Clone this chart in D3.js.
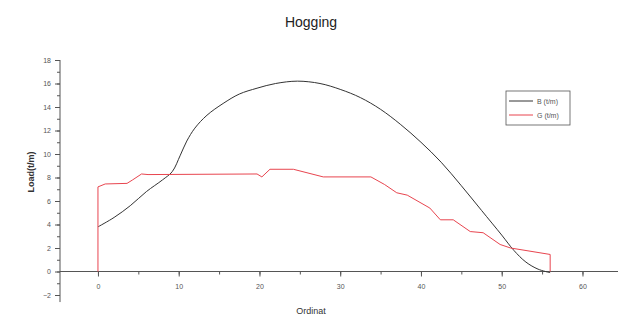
<!DOCTYPE html>
<html>
<head>
<meta charset="utf-8">
<script src="https://cdn.jsdelivr.net/npm/d3@7"></script>
<style>
  body { margin: 0; background: #fff; }
  svg { font-family: "Liberation Sans", Arial, sans-serif; }
</style>
</head>
<body>
<svg id="chart" width="624" height="320"></svg>
<script>
// B (t/m) - buoyancy curve
const bX = [0, 2, 4, 6, 8, 9.2, 10.2, 11, 12, 13.5, 15.5, 17.5, 19.7, 22, 24.7, 27.5, 30, 32.5, 35, 37.5, 40, 42.5, 45, 47.5, 50, 51.5, 53, 54.5, 56];
const bY = [3.8, 4.6, 5.6, 6.8, 7.8, 8.5, 9.9, 11.1, 12.2, 13.3, 14.3, 15.1, 15.6, 16.0, 16.2, 16.0, 15.5, 14.8, 13.8, 12.5, 11.0, 9.3, 7.3, 5.2, 3.1, 1.8, 0.8, 0.2, -0.1];

// G (t/m) - weight curve (stepped)
const gX = [0, 0, 0.9, 3.6, 4.3, 5.4, 6.2, 19.7, 20.3, 21.3, 24.2, 27.9, 33.8, 35.5, 37, 38.3, 41.1, 42.4, 44, 46.1, 47.7, 49.8, 51.1, 56, 56];
const gY = [0, 7.2, 7.45, 7.5, 7.8, 8.3, 8.25, 8.3, 8.05, 8.7, 8.7, 8.05, 8.05, 7.4, 6.7, 6.5, 5.4, 4.4, 4.4, 3.4, 3.3, 2.3, 2.0, 1.45, 0];

const xTicks = [0, 10, 20, 30, 40, 50, 60];
const yTicks = [-2, 0, 2, 4, 6, 8, 10, 12, 14, 16, 18];
const legendNames = ["B (t/m)", "G (t/m)"];
const seriesColors = ["#333333", "#e8454f"];

const svg = d3.select("#chart");

const x = d3.scaleLinear().domain([-4.7, 64.4]).range([60, 618]);
const y = d3.scaleLinear().domain([-2, 18]).range([295, 60]);

// title
svg.append("text")
    .attr("x", 311).attr("y", 27)
    .attr("text-anchor", "middle")
    .attr("font-size", 14)
    .attr("fill", "#222")
    .text("Hogging");

// y axis
const yAxis = svg.append("g").attr("transform", `translate(${x(-4.7)},0)`);
yAxis.append("line")
    .attr("y1", y(18)).attr("y2", y(-2.6))
    .attr("stroke", "#555");
yAxis.call(d3.axisLeft(y).tickValues(d3.range(-2, 19, 1)).tickFormat("").tickSize(3))
    .select(".domain").remove();
svg.append("g")
    .attr("transform", `translate(${x(-4.7)},0)`)
    .call(d3.axisLeft(y).tickValues(yTicks).tickSize(5).tickPadding(4))
    .call(g => g.select(".domain").remove())
    .call(g => g.selectAll("line").attr("stroke", "#555"))
    .call(g => g.selectAll("text").attr("font-size", 7).attr("fill", "#555")
        .attr("font-family", "Liberation Sans, Arial, sans-serif"));
yAxis.selectAll("line").attr("stroke", "#555");

// x axis at y = 0
const xAxis = svg.append("g").attr("transform", `translate(0,${y(0)})`);
xAxis.append("line")
    .attr("x1", x(-4.7)).attr("x2", x(64.4))
    .attr("stroke", "#555");
xAxis.call(d3.axisBottom(x).tickValues(d3.range(0, 61, 5)).tickFormat("").tickSize(3))
    .select(".domain").remove();
xAxis.selectAll("line").attr("stroke", "#555");
svg.append("g")
    .attr("transform", `translate(0,${y(0)})`)
    .call(d3.axisBottom(x).tickValues(xTicks).tickSize(5).tickPadding(8))
    .call(g => g.select(".domain").remove())
    .call(g => g.selectAll("line").attr("stroke", "#555"))
    .call(g => g.selectAll("text").attr("font-size", 7).attr("fill", "#555")
        .attr("font-family", "Liberation Sans, Arial, sans-serif"));

// axis labels
svg.append("text")
    .attr("x", 311).attr("y", 314)
    .attr("text-anchor", "middle")
    .attr("font-size", 9)
    .attr("fill", "#333")
    .text("Ordinat");
svg.append("text")
    .attr("transform", "translate(34,172) rotate(-90)")
    .attr("text-anchor", "middle")
    .attr("font-size", 9)
    .attr("font-weight", "bold")
    .attr("fill", "#333")
    .text("Load(t/m)");

// series
const line = d3.line().x(d => x(d[0])).y(d => y(d[1]));
const bLine = d3.line().x(d => x(d[0])).y(d => y(d[1])).curve(d3.curveCatmullRom.alpha(0.5));

svg.append("path")
    .datum(d3.zip(bX, bY))
    .attr("d", bLine)
    .attr("fill", "none")
    .attr("stroke", seriesColors[0])
    .attr("stroke-width", 1);

svg.append("path")
    .datum(d3.zip(gX, gY))
    .attr("d", line)
    .attr("fill", "none")
    .attr("stroke", seriesColors[1])
    .attr("stroke-width", 1);

// legend
const legend = svg.append("g").attr("transform", "translate(506,91)");
legend.append("rect")
    .attr("width", 64).attr("height", 34)
    .attr("fill", "#fff")
    .attr("stroke", "#555")
    .attr("stroke-width", 0.8);
legendNames.forEach((name, i) => {
    const ly = 10 + i * 14;
    legend.append("line")
        .attr("x1", 3).attr("x2", 27)
        .attr("y1", ly).attr("y2", ly)
        .attr("stroke", seriesColors[i]);
    legend.append("text")
        .attr("x", 31).attr("y", ly + 2.5)
        .attr("font-size", 7)
        .attr("fill", "#555")
        .text(name);
});
</script>
</body>
</html>
